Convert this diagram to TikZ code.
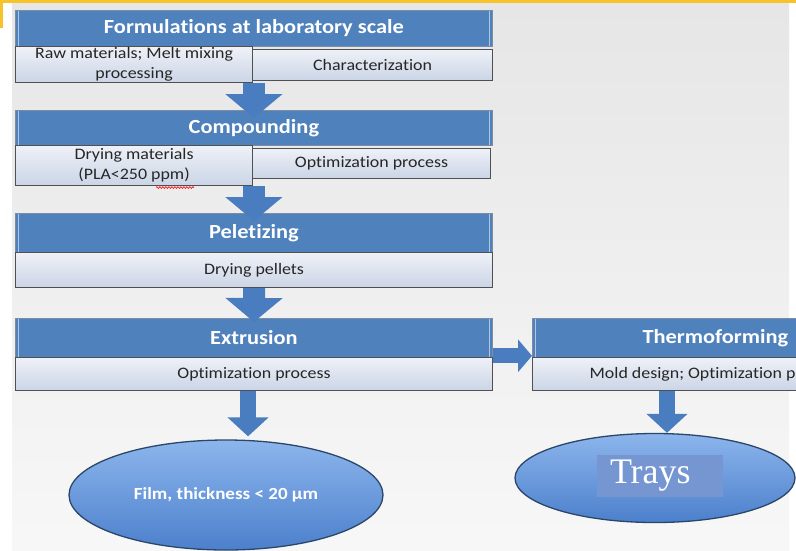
\documentclass[tikz,border=0pt]{standalone}
\usepackage{fontspec}
\setmainfont{Carlito}[FakeStretch=1.12, Ligatures=NoCommon]
\newfontfamily\trayfont{Liberation Serif}
\usetikzlibrary{arrows.meta,shapes.geometric,decorations.pathmorphing,calc}
\definecolor{hblue}{HTML}{4F81BD}
\definecolor{hedge}{HTML}{7C8DA3}
\definecolor{sboxtop}{HTML}{EEF1F7}
\definecolor{sboxbot}{HTML}{CBD5E6}
\definecolor{sedge}{HTML}{505050}
\definecolor{arrblue}{HTML}{4A7CC0}
\definecolor{bggray}{HTML}{E6E6E6}
\definecolor{ylw}{HTML}{F8C32A}
\definecolor{elltop}{HTML}{8CB5EC}
\definecolor{ellbot}{HTML}{4C80CC}
\definecolor{trayrect}{HTML}{7696D2}
\tikzset{
  hdr/.style={draw=hedge, line width=0.8pt, fill=hblue, text=white,
    font=\bfseries\fontsize{20}{23}\selectfont, anchor=north west,
    inner sep=0pt, minimum width=477pt,
    path picture={
      \draw[white!55!hblue, line width=1.3pt]
        ([xshift=3pt]path picture bounding box.north west) -- ([xshift=3pt]path picture bounding box.south west)
        ([xshift=-3pt]path picture bounding box.north east) -- ([xshift=-3pt]path picture bounding box.south east);}},
  sub/.style={draw=sedge, line width=1.1pt, top color=sboxtop, bottom color=sboxbot,
    text=black!85, font=\fontsize{16}{20}\selectfont, anchor=north west,
    inner sep=0pt, align=center},
  dnarrow/.style={draw=arrblue, line width=22pt, -{Triangle[width=56pt,length=24pt]}},
  smarrow/.style={draw=arrblue, line width=16pt, -{Triangle[width=40pt,length=19pt]}},
  rtarrow/.style={draw=arrblue, line width=15pt, -{Triangle[width=32pt,length=14pt]}},
  ell/.style={ellipse, draw=black!45!hblue, line width=1.3pt, top color=elltop, bottom color=ellbot,
    inner sep=0pt, text=white}
}
\begin{document}
\begin{tikzpicture}[x=1pt,y=-1pt]
\useasboundingbox (0,0) rectangle (796,550);
\clip (0,0) rectangle (796,550);
% background
\fill[white] (0,0) rectangle (796,550);
\shade[top color=bggray, bottom color=white!97!black] (12,3) rectangle (789,550);
\fill[ylw] (0,0) rectangle (796,2.5);
\fill[ylw] (0,0) rectangle (2.5,28);

% block 1
\node[hdr, minimum height=36pt] (h1) at (15,10) {Formulations at laboratory scale};
\node[sub, minimum width=237pt, minimum height=36pt] (s1a) at (15,46) {Raw materials; Melt mixing\\processing};
\node[sub, minimum width=240pt, minimum height=31pt] (s1b) at (252,49) {Characterization};

% block 2
\node[hdr, minimum height=35pt] (h2) at (15,110) {Compounding};
\node[sub, minimum width=237pt, minimum height=40pt] (s2a) at (15,145) {Drying materials\\(PLA<250 ppm)};
\node[sub, minimum width=238pt, minimum height=30pt] (s2b) at (252,148) {Optimization process};
\draw[red, line width=0.6pt, decorate, decoration={snake, amplitude=0.9pt, segment length=3pt}] (156,187.5) -- (194,187.5);

% block 3
\node[hdr, minimum height=39pt] (h3) at (15,213) {Peletizing};
\node[sub, minimum width=477pt, minimum height=35pt] (s3) at (15,252) {Drying pellets};

% block 4
\node[hdr, minimum height=39pt] (h4) at (15,318) {Extrusion};
\node[sub, minimum width=477pt, minimum height=33pt] (s4) at (15,357) {Optimization process};

% thermoforming
\node[hdr, minimum width=366pt, minimum height=39pt] (h5) at (532,318) {Thermoforming};
\node[sub, minimum width=366pt, minimum height=33pt] (s5) at (532,357) {Mold design; Optimization process};

% end products
\node[ell, minimum width=314pt, minimum height=110pt] (film) at (226,495)
  {\bfseries\fontsize{17}{20}\selectfont Film, thickness < 20 µm};
\node[ell, minimum width=280pt, minimum height=89pt] (trays) at (655,478) {};
\node[fill=trayrect, minimum height=42pt, inner ysep=0pt, inner xsep=13pt, text width=100pt,
  align=left, text=white, font=\trayfont\fontsize{36}{40}\selectfont] (traytxt) at (660,476) {Trays};

% connectors
\coordinate (a1s) at (s1a.south east -| h1.south);
\coordinate (a1e) at ($(h2.north)+(0,8)$);
\draw[dnarrow] (a1s) -- (a1e);
\coordinate (a2s) at (s2a.south east -| h2.south);
\coordinate (a2e) at ($(h3.north)+(0,8)$);
\draw[dnarrow] (a2s) -- (a2e);
\coordinate (a3s) at (s3.south);
\coordinate (a3e) at ($(h4.north)+(0,4)$);
\draw[dnarrow] (a3s) -- (a3e);
\draw[rtarrow] ($(h4.south east)+(0,-2)$) -- ($(h5.south west)+(0,-2)$);
\coordinate (a4s) at ($(s4.south)+(-6,0)$);
\coordinate (a4e) at ($(film.north -| a4s)+(0,-3)$);
\draw[smarrow] (a4s) -- (a4e);
\coordinate (a5s) at (s5.south -| 667,0);
\coordinate (a5e) at ($(trays.north -| a5s)+(0,0)$);
\draw[smarrow] (a5s) -- (a5e);
\end{tikzpicture}
\end{document}
